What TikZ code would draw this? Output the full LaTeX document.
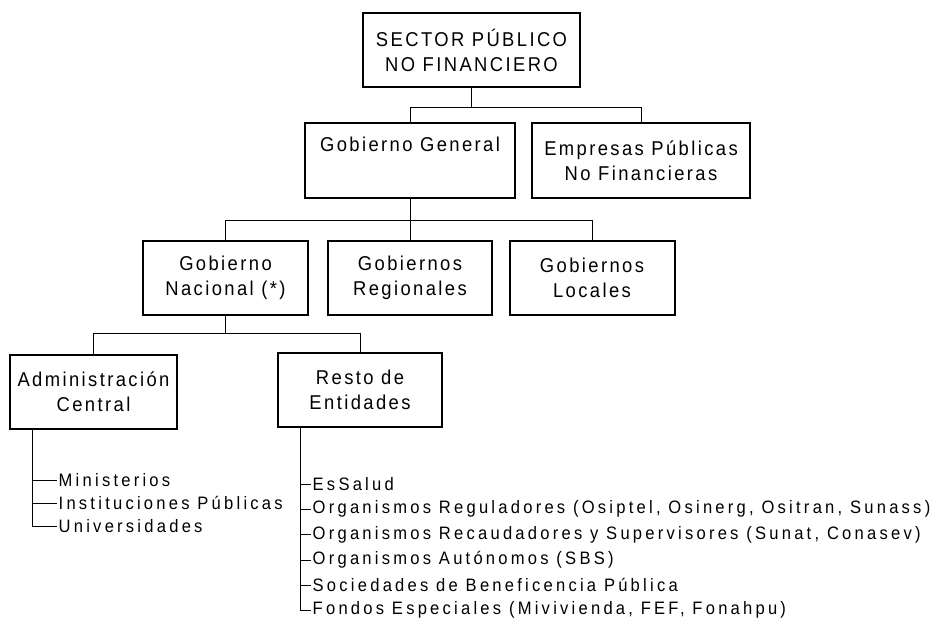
\documentclass[tikz,border=0pt]{standalone}
\usepackage{fontspec}
\setmainfont{Liberation Sans}[LetterSpace=12,FakeStretch=0.92]
\newfontfamily\listafont{Liberation Sans}[LetterSpace=18,FakeStretch=0.92]
\tikzset{
  caja/.style={draw, line width=2pt, align=center, inner sep=0pt,
    minimum height=74pt, font=\fontsize{20}{25}\selectfont},
  rama/.style={line width=0.8pt},
  item/.style={anchor=west, inner sep=1.5pt,
    font=\listafont\fontsize{18}{21}\selectfont},
}
\begin{document}
\begin{tikzpicture}[x=1pt,y=-1pt]
  \useasboundingbox (0,0) rectangle (939,623);
  % cajas
  \node[caja, minimum width=217pt] (sector) at (471.5,50.5) {SECTOR PÚBLICO\\NO FINANCIERO};
  \node[caja, minimum width=210pt] (gobgen) at (410,160.5) {Gobierno General\\\strut};
  \node[caja, minimum width=218pt] (empresas) at (641,160.5) {Empresas Públicas\\No Financieras};
  \node[caja, minimum width=165pt] (nacional) at (225.5,277.5) {Gobierno\\Nacional (*)};
  \node[caja, minimum width=164pt] (regional) at (410,277.5) {Gobiernos\\Regionales};
  \node[caja, minimum width=165pt] (locales) at (592,277.5) {Gobiernos\\Locales};
  \node[caja, minimum width=167pt] (admin) at (93.5,391.5) {Administración\\Central};
  \node[caja, minimum width=164pt] (resto) at (360,390) {Resto de\\Entidades};
  % ramas
  \coordinate (j1) at (471.5,107);
  \coordinate (j2) at (410,220);
  \coordinate (j3) at (225.5,333);
  \draw[rama] (sector.south) -- (j1);
  \draw[rama] (j1) -| (gobgen.north);
  \draw[rama] (j1) -| (empresas.north);
  \draw[rama] (gobgen.south) -- (regional.north);
  \draw[rama] (j2) -| (nacional.north);
  \draw[rama] (j2) -| (locales.north);
  \draw[rama] (nacional.south) -- (j3);
  \draw[rama] (j3) -| (admin.north);
  \draw[rama] (j3) -| (resto.north);
  % administracion central
  \coordinate (ac) at (32,428);
  \node[item] (minis) at (57,480) {Ministerios};
  \node[item] (inst) at (57,503) {Instituciones Públicas};
  \node[item] (univ) at (57,526) {Universidades};
  \foreach \n in {minis,inst,univ}
    \draw[rama] (ac) |- (\n.west);
  % resto de entidades
  \coordinate (re) at (300,426);
  \node[item] (essalud) at (311,484) {EsSalud};
  \node[item] (regul) at (311,509) {Organismos Reguladores (Osiptel, Osinerg, Ositran, Sunass)};
  \node[item] (recaud) at (311,534.5) {Organismos Recaudadores y Supervisores (Sunat, Conasev)};
  \node[item] (auton) at (311,560) {Organismos Autónomos (SBS)};
  \node[item] (benef) at (311,585) {Sociedades de Beneficencia Pública};
  \node[item] (fondos) at (311,610) {Fondos Especiales (Mivivienda, FEF, Fonahpu)};
  \foreach \n in {essalud,regul,recaud,auton,benef,fondos}
    \draw[rama] (re) |- (\n.west);
\end{tikzpicture}
\end{document}
